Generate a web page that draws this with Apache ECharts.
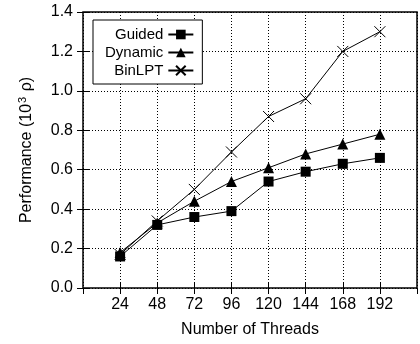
<!DOCTYPE html>
<html>
<head>
<meta charset="utf-8">
<script src="https://cdn.jsdelivr.net/npm/echarts@6/dist/echarts.min.js"></script>
<style>
  html, body { margin: 0; padding: 0; background: #fff; }
  #chart { width: 420px; height: 344px; }
</style>
</head>
<body>
<div id="chart"></div>
<script>
const threads = [24, 48, 72, 96, 120, 144, 168, 192];
const guided = [0.16, 0.32, 0.36, 0.39, 0.54, 0.59, 0.63, 0.66];
const dynamic = [0.18, 0.33, 0.44, 0.54, 0.61, 0.68, 0.73, 0.78];
const binlpt = [0.17, 0.34, 0.50, 0.69, 0.87, 0.96, 1.20, 1.30];

const font = 'Liberation Sans, Arial, Helvetica, sans-serif';
const crossSymbol = 'path://M0,0L10,10M10,0L0,10';

function pairs(values) {
  return threads.map((t, i) => [t, values[i]]);
}

function lineSeries(name, values, symbol, size, z) {
  return {
    name: name,
    type: 'line',
    data: pairs(values),
    symbol: symbol,
    symbolSize: size,
    z: z,
    lineStyle: { color: '#000', width: 1 },
    itemStyle: { color: '#000', borderColor: '#000', borderWidth: symbol === crossSymbol ? 1 : 0 },
    emphasis: { disabled: true },
    animation: false
  };
}

const chart = echarts.init(document.getElementById('chart'));

const sideAxis = {
  axisLabel: { show: false },
  axisLine: { show: false },
  axisTick: { inside: true, length: 6, lineStyle: { color: '#000' } },
  splitLine: { show: false }
};

const option = {
  animation: false,
  textStyle: { fontFamily: font, color: '#000' },
  grid: {
    left: 83, top: 12, right: 3, bottom: 56,
    show: true, borderColor: '#000', borderWidth: 1.5, backgroundColor: 'transparent'
  },
  legend: {
    orient: 'vertical',
    left: 93, top: 20,
    align: 'right',
    itemWidth: 25, itemHeight: 12, itemGap: 3,
    padding: [7, 8, 6, 12],
    backgroundColor: '#fff',
    borderColor: '#000', borderWidth: 1, borderRadius: 0,
    textStyle: { fontFamily: font, fontSize: 15, color: '#000', width: 58, align: 'right' },
    data: ['Guided', 'Dynamic', 'BinLPT']
  },
  xAxis: [
    {
      type: 'value',
      min: 0, max: 216, interval: 24,
      name: 'Number of Threads',
      nameLocation: 'middle',
      nameGap: 34,
      nameTextStyle: { fontFamily: font, fontSize: 16, color: '#000' },
      axisLine: { show: false },
      axisTick: { inside: true, length: 6, lineStyle: { color: '#000' } },
      axisLabel: {
        showMinLabel: false, showMaxLabel: false,
        margin: 9, fontSize: 16, color: '#000', fontFamily: font
      },
      splitLine: { show: true, lineStyle: { color: '#000', type: [1, 2], width: 1 } }
    },
    Object.assign({ type: 'value', position: 'top', min: 0, max: 216, interval: 24 }, sideAxis)
  ],
  yAxis: [
    {
      type: 'value',
      min: 0, max: 1.4, interval: 0.2,
      name: 'Performance (10{sup|3} ρ)',
      nameLocation: 'middle',
      nameGap: 47,
      nameTextStyle: {
        fontFamily: font, fontSize: 16, color: '#000',
        rich: { sup: { fontFamily: font, fontSize: 11, color: '#000', padding: [0, 1, 8, 1] } }
      },
      axisLine: { show: false },
      axisTick: { inside: true, length: 6, lineStyle: { color: '#000' } },
      axisLabel: {
        margin: 10, fontSize: 16, color: '#000', fontFamily: font,
        formatter: v => v.toFixed(1)
      },
      splitLine: { show: true, lineStyle: { color: '#000', type: [1, 2], width: 1 } }
    },
    Object.assign({ type: 'value', position: 'right', min: 0, max: 1.4, interval: 0.2 }, sideAxis)
  ],
  series: [
    lineSeries('Guided', guided, 'rect', 10, 4),
    lineSeries('Dynamic', dynamic, 'triangle', 11, 3),
    lineSeries('BinLPT', binlpt, crossSymbol, 11, 2)
  ]
};

chart.setOption(option);
</script>
</body>
</html>
